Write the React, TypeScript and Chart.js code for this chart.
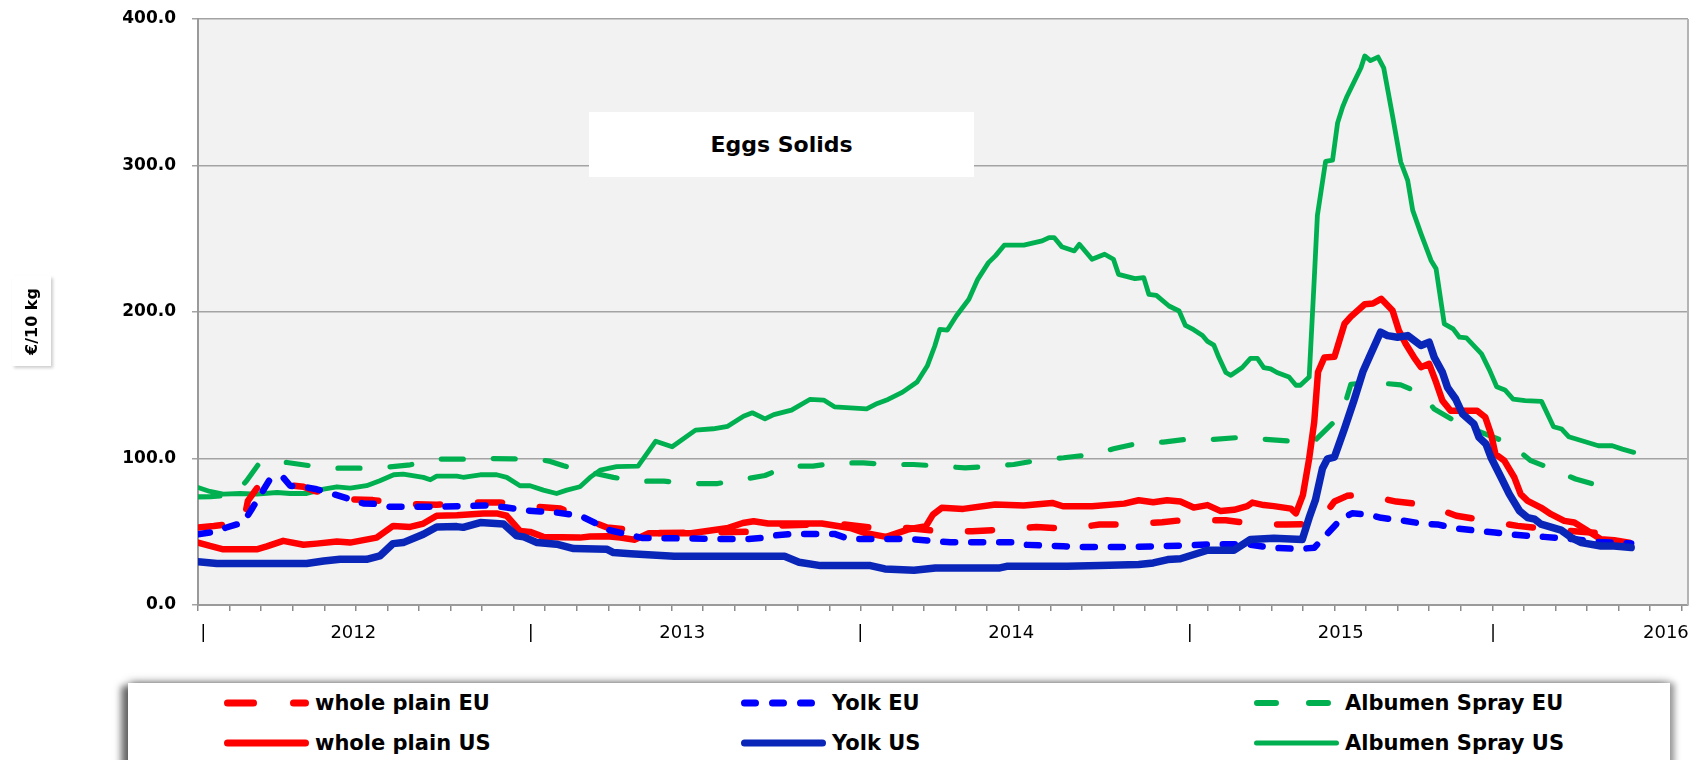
import React, { useEffect, useRef } from 'react';
import { Chart, registerables } from 'chart.js';

Chart.register(...registerables);

// ---- axis labels (week index on a weekly category axis, 0..236) ----
const weekMax = 236;
const yearLabels = ['2012', '2013', '2014', '2015', '2016'];
const yearLabelWeeks = [24.6, 76.7, 128.8, 181, 232.5];
const separatorWeeks = [0.85, 52.7, 104.9, 157.1, 205.1];
const yTicks = [0, 100, 200, 300, 400];

// ---- series: [week, €/10 kg] ----
const wholePlainEU: number[][] = [
  [0, 52.9], [2.5, 53.9], [4, 54.7], [5.1, 52.2], [7.2, 55.8], [7.9, 71.1], [9.5, 80.7], [11.4, 80.7], [14.1, 82], [16.7, 80.7],
  [18.3, 78], [20.9, 75.7], [24.1, 72.2], [27.7, 71.6], [33.6, 68.8], [37.8, 68.4], [43.6, 70], [47.8, 70], [53.7, 67], [57.4, 65.8],
  [62.1, 57.4], [64.8, 52.9], [67.4, 51.7], [69.2, 50], [72, 49], [80, 49.5], [87.8, 50], [90, 54], [98, 55], [102.4, 54.9],
  [107, 52.6], [112.4, 52.6], [117.4, 50.3], [122.6, 50.3], [127.7, 51.5], [132.8, 53.3], [137.6, 51.9], [142.8, 54.9], [147.3, 54.9],
  [152.7, 56.5], [155.6, 57.8], [162.8, 57.8], [167.5, 55.3], [172.4, 54.9], [177.3, 55.3], [180, 70.6], [182, 74.5], [184.5, 75.5],
  [189.8, 70.6], [194.8, 68.2], [199.3, 60.9], [209, 54], [216, 51], [224.3, 48.3], [227, 48.3],
];

const yolkEU: number[][] = [
  [0, 48.3], [1.9, 49.5], [4.5, 52.9], [7.2, 56.3], [8.5, 65.4], [11.4, 85.9], [13.5, 87], [14.6, 81.4], [16.7, 80.7], [18.8, 79],
  [21.4, 75.7], [24.1, 72.2], [26.2, 69.3], [28.3, 69], [30.4, 67], [37.8, 67], [46.3, 68], [48.9, 66.5], [51.6, 64.7], [54.2, 63.8],
  [56.8, 63.1], [60.5, 61], [63.1, 55.6], [65.2, 51], [67, 49.2], [70.3, 45.8], [82.7, 45.1], [87.2, 45.1], [89.5, 45.8], [91.2, 47.4],
  [94, 48.5], [100.8, 48.5], [103.1, 45.1], [112.4, 45.1], [119.2, 42.8], [128.9, 42.8], [130.3, 41.2], [137.1, 40.1], [139.4, 39.6],
  [147.3, 39.6], [155.6, 40.5], [160.9, 41.5], [166.2, 41.5], [169.9, 39.1], [174.6, 38.3], [176.8, 39.1], [181, 58.5], [182.8, 62.6],
  [185.5, 61.7], [187.4, 59.5], [190.3, 58], [194.4, 55.2], [196.3, 55], [199.2, 52.4], [203.8, 50.1], [205.4, 49.5], [208.5, 47.9],
  [213.2, 46.5], [217.8, 45], [222, 43], [227, 42],
];

const albumenSprayEU: number[][] = [
  [0, 73.8], [2, 74], [5.6, 75], [7.7, 84.8], [9.8, 97.3], [14.1, 97.3], [17.8, 95], [22, 93.4], [26.2, 93.4], [30.4, 94.3],
  [33.6, 95.7], [38.3, 99.6], [42, 99.6], [46.3, 100], [50, 99.8], [54.2, 99.2], [55.8, 98], [57.9, 95], [62.1, 90.5], [65.8, 87.1],
  [69.7, 84.5], [73.8, 84.5], [78, 82.9], [82.3, 82.9], [86.1, 85.6], [89.8, 88.4], [93.4, 94.8], [97.4, 94.8], [101.4, 97], [105.4, 97],
  [109.3, 95.9], [113.3, 95.9], [117.5, 94.8], [121.5, 93.6], [125.8, 94.8], [129.2, 95.9], [133.7, 99.3], [137.1, 100.5], [141.6, 102.7],
  [145, 106.6], [149.2, 110.7], [152.9, 111.2], [156.6, 113.1], [160.9, 113.1], [164.8, 114.3], [169.1, 113.1], [172.8, 111.9],
  [176.8, 111.9], [179.7, 124], [181.6, 136.2], [182.6, 150.7], [186.4, 151.9], [190.5, 150.2], [193.7, 144.5], [195.8, 133.8],
  [199, 125.8], [202.6, 119], [207.9, 109.9], [211.1, 98.5], [214.5, 92.8], [218.2, 86], [221.9, 81.4],
];

const wholePlainUS: number[][] = [
  [0, 42.6], [1.9, 40.3], [4, 38], [9.3, 38], [10.9, 40], [13.5, 43.8], [16.7, 41.1], [18.8, 41.9], [22, 43.3], [24.1, 42.6],
  [28.3, 46], [30.9, 54], [33.6, 53.3], [35.7, 55.6], [37.8, 60.9], [41, 61.3], [45.2, 62.5], [47.3, 62.5], [48.9, 60.9], [51, 50.6],
  [52.6, 49.9], [54.7, 46.5], [60.5, 46], [62.1, 46.7], [64.8, 47], [66.9, 46], [69.2, 44.6], [71.4, 49], [78.1, 49], [84, 52.6],
  [86.3, 56], [88, 57.2], [90.3, 55.6], [98.8, 55.6], [103.3, 52.6], [105.6, 49.2], [109, 46.5], [112.4, 51.5], [115.3, 53.8],
  [116.4, 61.7], [117.8, 66.3], [121.2, 65.6], [126.3, 68.6], [130.8, 67.9], [135.3, 69.7], [137, 67.4], [141.6, 67.4], [146.7, 69.2],
  [149, 71.5], [151.3, 70.2], [153.5, 71.5], [155.6, 70.6], [157.7, 66.5], [159.9, 68.2], [162, 64.1], [164.1, 65], [166.2, 67.5],
  [167, 69.9], [168.8, 68.2], [170.4, 67.5], [173.1, 65.8], [173.9, 62.6], [175, 75], [176, 100], [176.8, 125], [177.4, 159],
  [178.4, 168.9], [180, 169.4], [181.6, 192], [182.6, 196.8], [184.8, 205.3], [186.1, 205.8], [187.4, 209], [189.2, 201],
  [190.2, 187.4], [191.3, 178.2], [192.6, 169.1], [193.7, 162.3], [195, 164.6], [196, 153.2], [197.1, 139.5], [198.4, 132.6],
  [202.6, 132.6], [203.9, 128.1], [204.8, 116.7], [205.5, 103], [206.9, 98.5], [208.5, 87], [209.5, 75.7], [210.6, 71.1],
  [212.7, 66.5], [214.3, 62], [216.4, 57.4], [218, 56.3], [220.1, 50.6], [222.2, 44.9], [224.3, 44.2], [226.7, 42.6],
];

const yolkUS: number[][] = [
  [0, 29.6], [3, 28.3], [17.2, 28.3], [19.9, 30], [22.5, 31.2], [26.7, 31.2], [28.8, 33.5], [30.9, 41.9], [32.5, 42.6], [35.7, 48.3],
  [37.8, 53.3], [41, 53.5], [42, 53], [44.7, 56.3], [48.4, 55.3], [50.5, 47.2], [51.6, 46.5], [53.7, 42.6], [56.8, 41.5], [59.5, 38.5],
  [64.8, 38], [65.8, 35.8], [68.5, 35], [75.4, 33.3], [92.9, 33.3], [95.2, 29.2], [98.6, 26.9], [106.5, 26.9], [108.8, 24.6],
  [113.4, 23.7], [116.8, 25.3], [127, 25.3], [128.1, 26.4], [137.7, 26.4], [142.8, 26.9], [149, 27.6], [151.3, 28.7], [153.6, 31],
  [155.6, 31.6], [159.9, 37.4], [164.1, 37.4], [166.7, 44.7], [170.4, 45.6], [174.9, 44.7], [176, 59.7], [177, 71.8], [178.1, 93.2],
  [178.9, 99.8], [180, 101], [181.6, 120.4], [183.1, 139.8], [184.5, 159.2], [185.5, 168.9], [187.3, 186.2], [188.4, 183.9],
  [190, 182.8], [191.6, 183.9], [193.7, 177.1], [195, 179.4], [195.8, 169.1], [197.1, 158.8], [197.9, 148.6], [199.2, 140.6],
  [200.3, 130.4], [202.1, 123.5], [202.9, 114.4], [204, 109.9], [204.8, 100.7], [206.4, 87], [207.7, 75.7], [209.3, 64.3],
  [210.6, 59.7], [211.7, 58.6], [212.7, 55.2], [215.9, 51.1], [217.5, 46], [219.1, 42.6], [222.2, 40.3], [224.3, 40.3], [227, 39.2],
];

const albumenSprayUS: number[][] = [
  [0, 80.2], [1.9, 77.5], [4, 75.7], [6.7, 76.1], [9.3, 75.7], [12.5, 76.8], [14.6, 76.1], [17.2, 76.1], [19.9, 79.1], [22, 80.7],
  [24.1, 79.8], [26.7, 81.4], [28.8, 84.8], [31, 88.9], [32.5, 89.4], [35.7, 87.1], [36.8, 85.5], [37.8, 88], [41, 88], [42, 87.2],
  [44.7, 88.9], [47.3, 88.9], [48.9, 87.1], [51, 81.4], [52.6, 81.4], [54.7, 78.4], [56.8, 76.1], [58.4, 78.4], [60.5, 80.7],
  [62.1, 87.1], [63.7, 92.1], [66.3, 94.4], [69.7, 94.8], [72.5, 111.8], [75.1, 108], [78.8, 119.4], [81.6, 120.3], [83.9, 122],
  [86.4, 128.9], [87.8, 131.2], [89.8, 127.1], [91.2, 130], [94, 133], [96.9, 140.3], [99.1, 139.9], [100.8, 135.3], [105.9, 133.9],
  [107.6, 137.6], [109.3, 140.3], [111.6, 145.3], [113.9, 152.2], [115.5, 163.1], [116.7, 176.8], [117.5, 188.2], [118.7, 187.7],
  [120.1, 197.3], [122.1, 208.7], [123.5, 222.3], [125.2, 233.7], [126.3, 238.3], [127.7, 245.6], [130.8, 245.6], [133.7, 248.5],
  [134.8, 250.8], [135.6, 250.8], [136.8, 244.6], [138.8, 241.7], [139.6, 246.2], [141.6, 236], [143.6, 239.4], [145, 236],
  [145.8, 225.7], [148.4, 222.8], [149.8, 223.5], [150.6, 212.1], [151.8, 211.4], [153.8, 204.1], [155.4, 200.7], [156.4, 190.8],
  [157.7, 187.9], [159.1, 184], [159.9, 179.9], [160.9, 177.4], [161.7, 168.9], [162.8, 158.7], [163.6, 156.8], [165.4, 162.1],
  [166.7, 168.4], [167.8, 168.4], [168.8, 162.1], [169.9, 161.2], [170.9, 158.7], [172.8, 155.6], [173.9, 150], [174.6, 150],
  [176, 155.6], [176.8, 222.3], [177.3, 266], [178.6, 302.9], [179.7, 303.6], [180.5, 329.1], [181.3, 340], [182, 347.3],
  [183.1, 357], [184.2, 366.7], [184.8, 374.8], [185.7, 371.6], [186.9, 374], [187.8, 366.7], [189.2, 334], [190.5, 302.4],
  [191.6, 289.9], [192.4, 269.4], [193.7, 253.5], [195.3, 235.2], [196.1, 229.5], [197.4, 191.9], [198.8, 188.5], [199.8, 182.8],
  [200.9, 182.3], [203.3, 171.4], [204.6, 160], [205.7, 149], [207, 146.8], [208.3, 140.6], [210.2, 139.5], [212.8, 139],
  [214.7, 121.7], [216, 120.1], [217.1, 114.9], [219.2, 112.1], [221.8, 108.7], [224, 108.7], [225.6, 106.4], [227.4, 104.2],
];

const RED = '#ff0000';
const BLUE_EU = '#0000ff';
const BLUE_US = '#0a26b8';
const GREEN = '#00b050';

const toPoints = (s: number[][]) => s.map(([x, y]) => ({ x, y }));

const legendItems = [
  { label: 'whole plain EU', color: RED, width: 7, dash: '26 40', left: 223, top: 703 },
  { label: 'Yolk EU', color: BLUE_EU, width: 7, dash: '11 17', left: 740, top: 703 },
  { label: 'Albumen Spray EU', color: GREEN, width: 6, dash: '19 33', left: 1253, top: 703 },
  { label: 'whole plain US', color: RED, width: 7, dash: '', left: 223, top: 743 },
  { label: 'Yolk US', color: BLUE_US, width: 7, dash: '', left: 740, top: 743 },
  { label: 'Albumen Spray US', color: GREEN, width: 5, dash: '', left: 1253, top: 743 },
];

const plotBackground = {
  id: 'plotBackground',
  beforeDraw(chart: any) {
    const { ctx, chartArea } = chart;
    ctx.save();
    ctx.fillStyle = '#f2f2f2';
    ctx.fillRect(chartArea.left, chartArea.top, chartArea.right - chartArea.left, chartArea.bottom - chartArea.top);
    ctx.restore();
  },
  afterDraw(chart: any) {
    const { ctx, chartArea } = chart;
    ctx.save();
    ctx.strokeStyle = '#b4b4b4';
    ctx.lineWidth = 2;
    ctx.beginPath();
    ctx.moveTo(chartArea.right, chartArea.top);
    ctx.lineTo(chartArea.right, chartArea.bottom);
    ctx.stroke();
    ctx.restore();
  },
};

function labelFor(value: number): string {
  for (let i = 0; i < yearLabelWeeks.length; i++) if (Math.abs(yearLabelWeeks[i] - value) < 1e-6) return yearLabels[i];
  for (let i = 0; i < separatorWeeks.length; i++) if (Math.abs(separatorWeeks[i] - value) < 1e-6) return '|';
  return '';
}

export default function App() {
  const canvasRef = useRef<HTMLCanvasElement | null>(null);

  useEffect(() => {
    if (!canvasRef.current) return;
    const common = { pointRadius: 0, pointHoverRadius: 0, tension: 0, borderCapStyle: 'round', borderJoinStyle: 'round', fill: false };
    const chart = new Chart(canvasRef.current, {
      type: 'line',
      data: {
        datasets: [
          { ...common, label: 'Yolk US', data: toPoints(yolkUS), borderColor: BLUE_US, backgroundColor: BLUE_US, borderWidth: 7.5, order: 0 },
          { ...common, label: 'Yolk EU', data: toPoints(yolkEU), borderColor: BLUE_EU, backgroundColor: BLUE_EU, borderWidth: 6.5, borderDash: [12, 16], order: 1 },
          { ...common, label: 'whole plain US', data: toPoints(wholePlainUS), borderColor: RED, backgroundColor: RED, borderWidth: 6.5, order: 2 },
          { ...common, label: 'whole plain EU', data: toPoints(wholePlainEU), borderColor: RED, backgroundColor: RED, borderWidth: 6.5, borderDash: [24, 38], order: 3 },
          { ...common, label: 'Albumen Spray US', data: toPoints(albumenSprayUS), borderColor: GREEN, backgroundColor: GREEN, borderWidth: 4.8, order: 4 },
          { ...common, label: 'Albumen Spray EU', data: toPoints(albumenSprayEU), borderColor: GREEN, backgroundColor: GREEN, borderWidth: 5.2, borderDash: [22, 30], order: 5 },
        ] as any,
      },
      options: {
        animation: false,
        responsive: false,
        maintainAspectRatio: false,
        layout: { autoPadding: false, padding: { left: 0, right: 18, top: 19, bottom: 0 } },
        plugins: { legend: { display: false }, tooltip: { enabled: false }, title: { display: false } },
        scales: {
          x: {
            type: 'linear',
            min: 0,
            max: weekMax,
            afterBuildTicks: (scale: any) => {
              const t: number[] = [];
              for (let w = 0; w <= 235; w += 5) t.push(w);
              yearLabelWeeks.forEach((w) => t.push(w));
              separatorWeeks.forEach((w) => t.push(w));
              t.sort((a, b) => a - b);
              scale.ticks = t.map((value) => ({ value }));
            },
            afterFit: (scale: any) => { scale.height = 55; },
            grid: {
              drawOnChartArea: false,
              drawTicks: true,
              tickLength: 6,
              lineWidth: 1.5,
              color: (ctx: any) => {
                const v = ctx.tick ? ctx.tick.value : -1;
                return Number.isInteger(v) && v % 5 === 0 ? '#8c8c8c' : 'rgba(0,0,0,0)';
              },
            },
            border: { color: '#9a9a9a', width: 2 },
            ticks: {
              autoSkip: false,
              maxRotation: 0,
              minRotation: 0,
              padding: 12,
              color: '#000',
              font: { family: '"DejaVu Sans", sans-serif', size: 18 },
              callback: (value: any) => labelFor(Number(value)),
            },
          },
          y: {
            type: 'linear',
            min: 0,
            max: 400,
            afterBuildTicks: (scale: any) => { scale.ticks = yTicks.map((value) => ({ value })); },
            afterFit: (scale: any) => {
              scale.width = 198;
              scale.paddingTop = 0;
              scale.paddingBottom = 0;
            },
            grid: { color: '#a3a3a3', lineWidth: 1.5, tickLength: 6, drawTicks: true },
            border: { color: '#9a9a9a', width: 2 },
            ticks: {
              padding: 16,
              color: '#000',
              font: { family: '"DejaVu Sans", sans-serif', size: 17, weight: 'bold' },
              callback: (value: any) => Number(value).toFixed(1),
            },
          },
        },
      } as any,
      plugins: [plotBackground],
    });
    return () => chart.destroy();
  }, []);

  return (
    <div style={{ position: 'absolute', left: 0, top: 0, width: 1706, height: 760, overflow: 'hidden', background: '#fff' }}>
      <canvas ref={canvasRef} width={1706} height={660} style={{ position: 'absolute', left: 0, top: 0, width: 1706, height: 660 }} />
      <div
        style={{
          position: 'absolute', left: 589, top: 112, width: 385, height: 65, background: '#fff',
          display: 'flex', alignItems: 'center', justifyContent: 'center',
          fontFamily: '"DejaVu Sans", sans-serif', fontWeight: 'bold', fontSize: 22, color: '#000',
        }}
      >
        Eggs Solids
      </div>
      <div
        style={{
          position: 'absolute', left: 12, top: 276, width: 39, height: 90, background: '#fff',
          boxShadow: '2px 2px 3px rgba(0,0,0,0.2)',
          display: 'flex', alignItems: 'center', justifyContent: 'center',
        }}
      >
        <div style={{ transform: 'rotate(-90deg)', whiteSpace: 'nowrap', fontFamily: '"DejaVu Sans", sans-serif', fontWeight: 'bold', fontSize: 16, color: '#000' }}>
          €/10 kg
        </div>
      </div>
      <div
        style={{
          position: 'absolute', left: 128, top: 683, width: 1542, height: 120, background: '#fff',
          boxShadow: '-7px 3px 7px rgba(0,0,0,0.55), 0 -2px 8px rgba(0,0,0,0.25), 5px 0 6px rgba(0,0,0,0.3)',
        }}
      />
      {legendItems.map((it) => (
        <div key={it.label} style={{ position: 'absolute', left: it.left, top: it.top - 15, height: 30, display: 'flex', alignItems: 'center' }}>
          <svg width={90} height={30} style={{ display: 'block' }}>
            <line
              x1={it.width / 2 + 1} y1={15} x2={86 - it.width / 2} y2={15}
              stroke={it.color} strokeWidth={it.width} strokeLinecap="round"
              strokeDasharray={it.dash || undefined}
            />
          </svg>
          <span style={{ fontFamily: '"DejaVu Sans", sans-serif', fontWeight: 'bold', fontSize: 21, color: '#000', marginLeft: 2, whiteSpace: 'nowrap' }}>
            {it.label}
          </span>
        </div>
      ))}
    </div>
  );
}
